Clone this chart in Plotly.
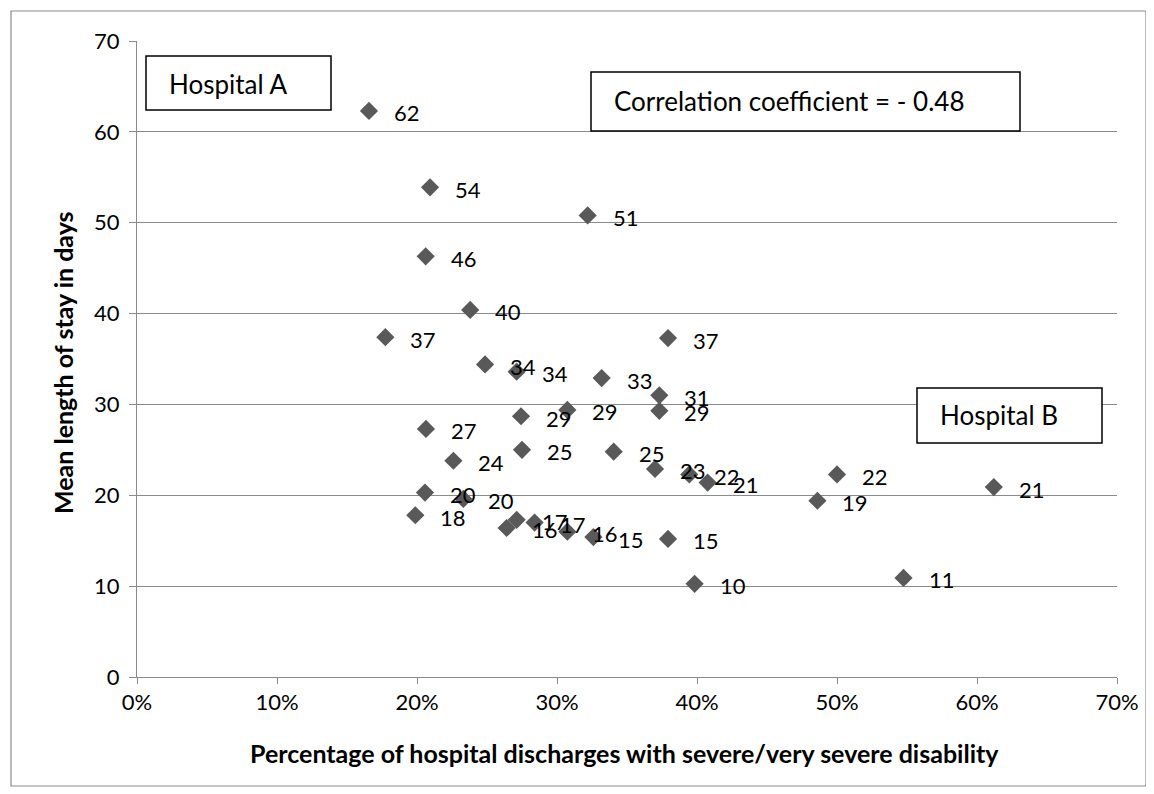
import plotly.graph_objects as go

# Percentage of hospital discharges with severe/very severe disability (fraction)
pct_severe = [0.1657, 0.2093, 0.3219, 0.2062, 0.2380, 0.1774, 0.3793, 0.2486, 0.2712, 0.3319,
              0.3731, 0.3731, 0.3074, 0.2743, 0.2064, 0.2750, 0.3405, 0.2260, 0.3700, 0.3945,
              0.4076, 0.2057, 0.2331, 0.1988, 0.2712, 0.2640, 0.2840, 0.3074, 0.3260, 0.3793,
              0.3983, 0.5000, 0.4860, 0.6120, 0.5475]
# Mean length of stay in days
mean_los = [62.3, 53.9, 50.8, 46.3, 40.4, 37.4, 37.3, 34.4, 33.6, 32.9,
            31.0, 29.3, 29.4, 28.7, 27.3, 25.0, 24.8, 23.8, 22.9, 22.3,
            21.4, 20.3, 19.6, 17.8, 17.3, 16.4, 17.0, 16.0, 15.4, 15.2,
            10.25, 22.3, 19.4, 20.9, 10.9]
point_labels = [str(int(round(v))) for v in mean_los]

x_ticks = [0, 0.1, 0.2, 0.3, 0.4, 0.5, 0.6, 0.7]
x_tick_text = ["0%", "10%", "20%", "30%", "40%", "50%", "60%", "70%"]
y_ticks = [0, 10, 20, 30, 40, 50, 60, 70]

x_title = "Percentage of hospital discharges with severe/very severe disability"
y_title = "Mean length of stay in days"

FONT = "Lato"
GRID = "#8a8a8a"

# plot area in page pixels: x 137..1117, y 41..677 (page has 8px body margin)
PL, PR, PT, PB = 137.0, 1117.0, 41.0, 677.0


def px(xp):
    return (xp - PL) / (PR - PL)


def py(yp):
    return (PB - yp) / (PB - PT)


fig = go.Figure()
fig.add_trace(go.Scatter(
    x=pct_severe, y=mean_los, mode="markers",
    marker=dict(symbol="diamond", size=14, color="#595959"),
    showlegend=False, hoverinfo="x+y"))

annotations = []
for xv, yv, lab in zip(pct_severe, mean_los, point_labels):
    annotations.append(dict(x=xv, y=yv, xref="x", yref="y", text=lab, showarrow=False,
                            xanchor="left", yanchor="middle", xshift=23, yshift=-2,
                            font=dict(family=FONT, size=22, color="#000000")))

# text boxes: (text, left, right, top, bottom, text-left, text-center-y) in page pixels
boxes = [
    ("Hospital A", 146, 331, 56, 110, 167, 84),
    ("Correlation coefficient = - 0.48", 591, 1020, 72, 131, 612, 101),
    ("Hospital B", 917, 1102, 388, 443, 938, 415),
]
shapes = []
for txt, l, r, t, b, tx, ty in boxes:
    shapes.append(dict(type="rect", xref="paper", yref="paper", x0=px(l), x1=px(r), y0=py(b), y1=py(t),
                       line=dict(color="#000000", width=1.5), fillcolor="#ffffff", layer="above"))
    annotations.append(dict(x=px(tx), y=py(ty), xref="paper", yref="paper", text=txt, showarrow=False,
                            xanchor="left", yanchor="middle",
                            font=dict(family=FONT, size=26, color="#000000")))

# axis titles
annotations.append(dict(x=px(624), y=py(753), xref="paper", yref="paper",
                        text="<b>" + x_title + "</b>", showarrow=False,
                        xanchor="center", yanchor="middle",
                        font=dict(family=FONT, size=25, color="#000000")))
annotations.append(dict(x=px(63), y=py(363), xref="paper", yref="paper",
                        text="<b>" + y_title + "</b>", showarrow=False, textangle=-90,
                        xanchor="center", yanchor="middle",
                        font=dict(family=FONT, size=25, color="#000000")))

# outer chart border
shapes.append(dict(type="rect", xref="paper", yref="paper",
                   x0=px(11), x1=px(1146), y0=py(786), y1=py(11),
                   line=dict(color="#8c8c8c", width=1.2), layer="below"))

fig.update_layout(
    width=1154, height=794,
    margin=dict(l=129, r=45, t=33, b=125, autoexpand=False),
    paper_bgcolor="#ffffff", plot_bgcolor="#ffffff",
    font=dict(family=FONT, size=22, color="#000000"),
    annotations=annotations, shapes=shapes,
    xaxis=dict(range=[0, 0.7], tickvals=x_ticks, ticktext=x_tick_text,
               showgrid=False, zeroline=False, showline=True, linecolor=GRID, linewidth=1,
               ticks="outside", ticklen=6, tickcolor=GRID,
               tickfont=dict(family=FONT, size=22)),
    yaxis=dict(range=[0, 70], tickvals=y_ticks,
               showgrid=True, gridcolor=GRID, gridwidth=1,
               zeroline=False, showline=True, linecolor=GRID, linewidth=1,
               ticks="outside", ticklen=7, tickcolor=GRID, ticklabelstandoff=5,
               tickfont=dict(family=FONT, size=22)),
)

fig.write_html("out.html")
